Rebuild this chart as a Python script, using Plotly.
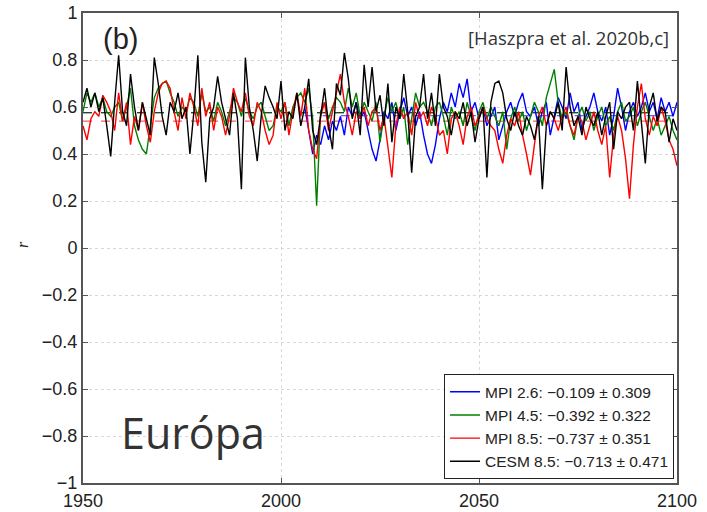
import numpy as np
import plotly.graph_objects as go

years_full = list(range(1950, 2101))
years_rcp26 = list(range(2006, 2101))

cesm85 = [
    0.62, 0.68, 0.60, 0.66, 0.58, 0.64, 0.52, 0.39, 0.62, 0.82,
    0.58, 0.52, 0.74, 0.60, 0.50, 0.62, 0.55, 0.48, 0.81, 0.70,
    0.56, 0.48, 0.62, 0.58, 0.66, 0.55, 0.60, 0.40, 0.58, 0.82,
    0.45, 0.28, 0.55, 0.60, 0.73, 0.62, 0.55, 0.48, 0.66, 0.55,
    0.25, 0.81, 0.60, 0.50, 0.37, 0.56, 0.69, 0.64, 0.60, 0.55,
    0.71, 0.50, 0.58, 0.55, 0.66, 0.52, 0.60, 0.72, 0.50, 0.44,
    0.56, 0.68, 0.52, 0.42, 0.70, 0.65, 0.83, 0.72, 0.55, 0.62,
    0.48, 0.78, 0.60, 0.77, 0.58, 0.65, 0.52, 0.70, 0.45, 0.60,
    0.55, 0.74, 0.58, 0.32, 0.56, 0.60, 0.74, 0.55, 0.66, 0.52,
    0.74, 0.60, 0.56, 0.48, 0.58, 0.55, 0.62, 0.52, 0.58, 0.45,
    0.55, 0.60, 0.30, 0.62, 0.70, 0.71, 0.66, 0.55, 0.50, 0.58,
    0.52, 0.48, 0.56, 0.52, 0.46, 0.56, 0.25, 0.52, 0.58, 0.55,
    0.62, 0.50, 0.77, 0.60, 0.52, 0.56, 0.48, 0.60, 0.55, 0.52,
    0.58, 0.48, 0.56, 0.62, 0.42, 0.58, 0.55, 0.60, 0.62, 0.50,
    0.71, 0.55, 0.36, 0.60, 0.66, 0.54, 0.60, 0.58, 0.45, 0.55,
    0.50,
]

mpi85 = [
    0.52, 0.46, 0.55, 0.58, 0.56, 0.65, 0.62, 0.58, 0.50, 0.66,
    0.54, 0.62, 0.44, 0.56, 0.50, 0.62, 0.52, 0.45, 0.58, 0.66,
    0.70, 0.71, 0.68, 0.58, 0.50, 0.64, 0.55, 0.66, 0.60, 0.52,
    0.68, 0.56, 0.62, 0.50, 0.60, 0.56, 0.48, 0.56, 0.68, 0.62,
    0.58, 0.66, 0.56, 0.52, 0.62, 0.58, 0.50, 0.44, 0.48, 0.62,
    0.55, 0.62, 0.48, 0.58, 0.66, 0.56, 0.68, 0.50, 0.42, 0.38,
    0.56, 0.62, 0.50, 0.58, 0.66, 0.74, 0.62, 0.56, 0.48, 0.58,
    0.55, 0.60, 0.52, 0.58, 0.60, 0.50, 0.56, 0.44, 0.30, 0.52,
    0.60, 0.55, 0.58, 0.48, 0.62, 0.55, 0.58, 0.52, 0.60, 0.56,
    0.48, 0.50, 0.40, 0.55, 0.58, 0.52, 0.44, 0.56, 0.60, 0.52,
    0.56, 0.60, 0.55, 0.52, 0.50, 0.42, 0.36, 0.48, 0.55, 0.52,
    0.58, 0.48, 0.40, 0.31, 0.44, 0.56, 0.60, 0.52, 0.58, 0.55,
    0.50, 0.56, 0.60, 0.52, 0.48, 0.56, 0.54, 0.46, 0.52, 0.58,
    0.50, 0.44, 0.52, 0.30, 0.48, 0.56, 0.50, 0.38, 0.21, 0.44,
    0.60, 0.70, 0.55, 0.48, 0.56, 0.52, 0.60, 0.54, 0.46, 0.42,
    0.35,
]

mpi45 = [
    0.58, 0.66, 0.62, 0.66, 0.60, 0.64, 0.58, 0.56, 0.60, 0.62,
    0.54, 0.60, 0.68, 0.52, 0.46, 0.42, 0.40, 0.52, 0.64, 0.68,
    0.70, 0.71, 0.66, 0.62, 0.56, 0.60, 0.58, 0.64, 0.62, 0.56,
    0.66, 0.58, 0.60, 0.54, 0.62, 0.58, 0.52, 0.58, 0.64, 0.62,
    0.56, 0.64, 0.58, 0.55, 0.60, 0.62, 0.56, 0.50, 0.52, 0.60,
    0.58, 0.62, 0.52, 0.60, 0.64, 0.66, 0.62, 0.68, 0.55, 0.18,
    0.58, 0.62, 0.55, 0.60, 0.64, 0.62, 0.58, 0.68, 0.60, 0.66,
    0.56, 0.62, 0.58, 0.54, 0.62, 0.45, 0.56, 0.64, 0.58, 0.62,
    0.55, 0.60, 0.44, 0.56, 0.66, 0.60, 0.62, 0.58, 0.52, 0.60,
    0.62, 0.56, 0.48, 0.60, 0.55, 0.58, 0.52, 0.62, 0.56, 0.50,
    0.58, 0.62, 0.55, 0.60, 0.56, 0.52, 0.58, 0.42, 0.55, 0.60,
    0.54, 0.58, 0.50, 0.56, 0.62, 0.58, 0.52, 0.64, 0.70, 0.76,
    0.62, 0.55, 0.58, 0.52, 0.46, 0.56, 0.60, 0.54, 0.58, 0.50,
    0.56, 0.60, 0.52, 0.56, 0.50, 0.58, 0.62, 0.54, 0.56, 0.60,
    0.52, 0.58, 0.62, 0.56, 0.50, 0.55, 0.48, 0.52, 0.56, 0.50,
    0.46,
]

mpi26 = [
    0.60, 0.50, 0.40, 0.48, 0.44, 0.52, 0.46, 0.54, 0.50, 0.56,
    0.48, 0.60, 0.56, 0.62, 0.55, 0.58, 0.50, 0.42, 0.37, 0.46,
    0.58, 0.55, 0.62, 0.50, 0.58, 0.64, 0.56, 0.60, 0.52, 0.58,
    0.48, 0.40, 0.36, 0.44, 0.55, 0.62, 0.58, 0.66, 0.60, 0.70,
    0.64, 0.72, 0.58, 0.62, 0.55, 0.60, 0.52, 0.56, 0.60, 0.46,
    0.52, 0.58, 0.62, 0.56, 0.62, 0.66, 0.58, 0.56, 0.60, 0.52,
    0.58, 0.62, 0.48, 0.56, 0.64, 0.60, 0.55, 0.66, 0.58, 0.62,
    0.50, 0.56, 0.60, 0.66, 0.58, 0.54, 0.60, 0.48, 0.56, 0.68,
    0.60, 0.50, 0.58, 0.62, 0.56, 0.60, 0.66, 0.58, 0.62, 0.55,
    0.64, 0.58, 0.62, 0.56, 0.62,
]

series = [
    ("MPI 2.6: \u22120.109 \u00b1 0.309", years_rcp26, mpi26, "#0000ff"),
    ("MPI 4.5: \u22120.392 \u00b1 0.322", years_full, mpi45, "#008000"),
    ("MPI 8.5: \u22120.737 \u00b1 0.351", years_full, mpi85, "#ff0000"),
    ("CESM 8.5: \u22120.713 \u00b1 0.471", years_full, cesm85, "#000000"),
]

y_ticks = [-1, -0.8, -0.6, -0.4, -0.2, 0, 0.2, 0.4, 0.6, 0.8, 1]
y_tick_labels = ["\u22121", "\u22120.8", "\u22120.6", "\u22120.4", "\u22120.2",
                 "0", "0.2", "0.4", "0.6", "0.8", "1"]
x_ticks = [1950, 2000, 2050, 2100]

W, H = 707, 512
ML, MR, MT, MB = 83, 30, 13, 29

fig = go.Figure()

# dashed mean lines
for name, xs, ys, col in series:
    m = float(np.mean(ys))
    fig.add_trace(go.Scatter(x=[xs[0], xs[-1]], y=[m, m], mode="lines",
                             line=dict(color=col, width=1, dash="dash"),
                             showlegend=False, hoverinfo="skip", opacity=0.8))

for name, xs, ys, col in series:
    fig.add_trace(go.Scatter(x=xs, y=ys, mode="lines", name=name,
                             line=dict(color=col, width=1.4)))

axis_common = dict(showline=True, linecolor="#555", linewidth=2, mirror="ticks",
                   ticks="inside", ticklen=5, tickcolor="#555", automargin=False,
                   showgrid=True, gridcolor="#d8d8d8", griddash="dot", gridwidth=1,
                   zeroline=False,
                   tickfont=dict(family="Liberation Sans, Arial", size=18, color="#222"))

fig.update_layout(
    width=W, height=H,
    margin=dict(l=ML, r=MR, t=MT, b=MB, autoexpand=False),
    paper_bgcolor="white", plot_bgcolor="white",
    xaxis=dict(range=[1950, 2100], tickvals=x_ticks, ticktext=[str(v) for v in x_ticks],
               **axis_common),
    yaxis=dict(range=[-1, 1], tickvals=y_ticks, ticktext=y_tick_labels, **axis_common),
    legend=dict(x=0.995, y=0.008, xanchor="right", yanchor="bottom",
                bgcolor="white", bordercolor="#222", borderwidth=1,
                font=dict(family="Liberation Sans, Arial", size=15.5, color="#222"),
                tracegroupgap=0, itemwidth=30),
    showlegend=True,
)

fig.add_annotation(x=1959, y=-0.785, xref="x", yref="y", text="Európa", showarrow=False,
                   xanchor="left", yanchor="middle",
                   font=dict(family="Open Sans", size=43, color="#333"))
fig.add_annotation(x=2098.5, y=0.895, xref="x", yref="y", text="[Haszpra et al. 2020b,c]",
                   showarrow=False, xanchor="right", yanchor="middle",
                   font=dict(family="Open Sans", size=18.5, color="#333"))
fig.add_annotation(x=1954.5, y=0.89, xref="x", yref="y", text="(b)", showarrow=False,
                   xanchor="left", yanchor="middle",
                   font=dict(family="Liberation Sans, Arial", size=29, color="#222"))
fig.add_annotation(x=(22 - ML) / (W - ML - MR), y=1 - (245 - MT) / (H - MT - MB),
                   xref="paper", yref="paper", text="<i>r</i>", showarrow=False,
                   textangle=-90, xanchor="center", yanchor="middle",
                   font=dict(family="Liberation Serif", size=16, color="#222"))

fig.write_html("out.html", config={"displayModeBar": False},
               post_script="document.body.style.margin='0';document.body.style.overflow='hidden';")
